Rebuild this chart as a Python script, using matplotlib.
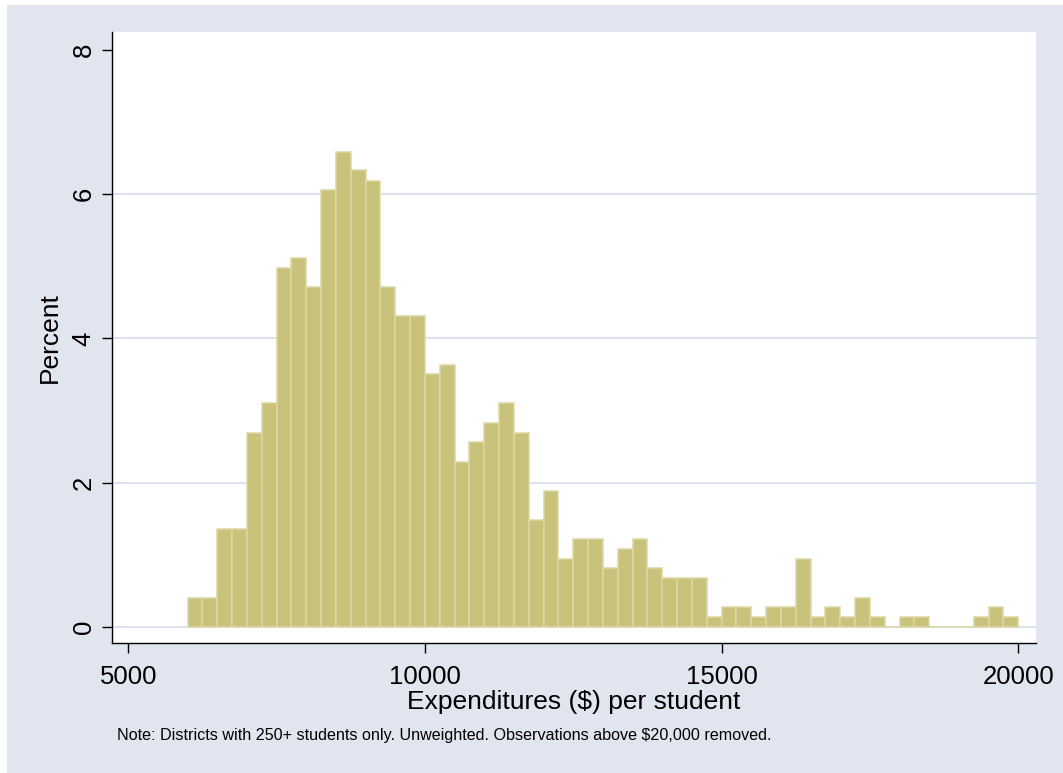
"""Histogram of per-student expenditures, Stata s2color look."""

import matplotlib
matplotlib.use("Agg")
import matplotlib.pyplot as plt
import numpy as np
from matplotlib.patches import Rectangle

# bins: $250 wide, starting at $6000
bin_start = 6000
bin_width = 250
# percent of districts in each bin
percents = [0.40, 0.40, 1.35, 1.35, 2.69, 3.10, 4.98, 5.11, 4.71, 6.06,
            6.59, 6.33, 6.19, 4.71, 4.31, 4.31, 3.50, 3.63, 2.29, 2.56,
            2.83, 3.10, 2.69, 1.48, 1.88, 0.94, 1.21, 1.21, 0.81, 1.08,
            1.21, 0.81, 0.67, 0.67, 0.67, 0.13, 0.27, 0.27, 0.13, 0.27,
            0.27, 0.94, 0.13, 0.27, 0.13, 0.40, 0.13, 0.00, 0.13, 0.13,
            0.00, 0.00, 0.00, 0.13, 0.27, 0.13]
x_ticks = [5000, 10000, 15000, 20000]
y_ticks = [0, 2, 4, 6, 8]
grid_levels = [0, 2, 4, 6]

x_title = "Expenditures ($) per student"
y_title = "Percent"
note = ("Note: Districts with 250+ students only. Unweighted. "
        "Observations above $20,000 removed.")

W, H = 1063, 773
bg = "#E1E5F0"
grid_col = "#DDE1EE"
bar_fill = "#C9C27B"
bar_edge = "#DCD7A4"

plt.rcParams["font.family"] = ["Liberation Sans", "DejaVu Sans"]

fig = plt.figure(figsize=(W / 100, H / 100), dpi=100, facecolor="white")
# bluish graph region
fig.patches.append(Rectangle((7 / W, 0), 1, 1 - 5 / H, transform=fig.transFigure,
                             facecolor=bg, edgecolor="none", zorder=-10))

ax = fig.add_axes([111.7 / W, 1 - 643.3 / H, 924.6 / W, 611 / H])
ax.set_facecolor("white")

# gridlines (none at the top tick)
for g in grid_levels:
    ax.axhline(g, color=grid_col, lw=1.4, zorder=1)

edges = bin_start + bin_width * np.arange(len(percents))
ax.bar(edges, percents, width=bin_width, align="edge", color=bar_fill,
       edgecolor=bar_edge, linewidth=1.1, zorder=2)

ax.set_xlim(4720, 20303)
ax.set_ylim(-0.23, 8.246)

ax.set_xticks(x_ticks)
ax.set_yticks(y_ticks)
ax.set_yticklabels([str(t) for t in y_ticks], rotation=90, va="center")
ax.tick_params(axis="both", direction="out", length=7.5, width=1,
               labelsize=18.5, color="black")
ax.tick_params(axis="x", pad=8)
ax.tick_params(axis="y", pad=4)

for side in ["top", "right"]:
    ax.spines[side].set_visible(False)
for side in ["left", "bottom"]:
    ax.spines[side].set_linewidth(1.0)
    ax.spines[side].set_color("black")

ax.set_xlabel(x_title, fontsize=19, labelpad=1)
# fixed spot so the title does not follow the tick labels
ax.yaxis.set_label_coords(-0.0535, 0.5)
ax.set_ylabel(y_title, fontsize=19)

fig.text(117 / W, 1 - 740 / H, note, fontsize=11.6, va="baseline", ha="left")

fig.savefig("out.png", dpi=100, facecolor="white")
